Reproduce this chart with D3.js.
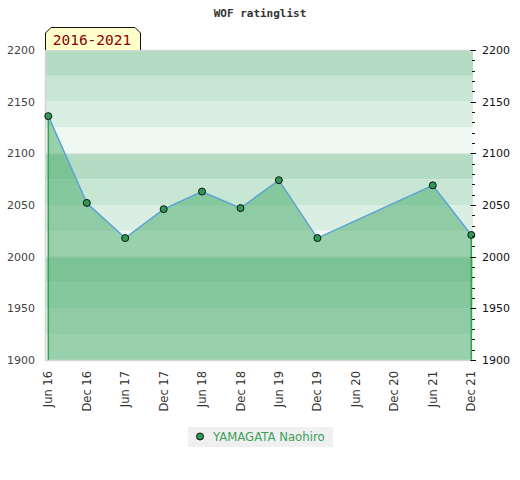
<!DOCTYPE html>
<html>
<head>
<meta charset="utf-8">
<script src="https://cdn.jsdelivr.net/npm/d3@7"></script>
<style>
  body { margin: 0; background: #fff; }
  svg { display: block; }
</style>
</head>
<body>
<div id="chart"></div>
<script>
// chart values
var dates = ["2016-06", "2016-12", "2017-06", "2017-12", "2018-06", "2018-12", "2019-06", "2019-12", "2021-06", "2021-12"];
var ratings = [2136, 2052, 2018, 2046, 2063, 2047, 2074, 2018, 2069, 2021];
var tickDates = ["2016-06", "2016-12", "2017-06", "2017-12", "2018-06", "2018-12", "2019-06", "2019-12", "2020-06", "2020-12", "2021-06", "2021-12"];
var yTicks = [1900, 1950, 2000, 2050, 2100, 2150, 2200];
var bandColors = ["#b3dcc3", "#c8e6d4", "#dbeee3", "#f0f8f3"];
var playerName = "YAMAGATA Naohiro";
var titleText = "WOF ratinglist";
var periodText = "2016-2021";

var width = 520, height = 480;
var plotLeft = 45, plotRight = 473, plotTop = 50, plotBottom = 360;

var parse = d3.timeParse("%Y-%m");
var data = dates.map(function (d, i) { return { date: parse(d), value: ratings[i] }; });

var x = d3.scaleTime()
    .domain([parse(tickDates[0]), parse(tickDates[tickDates.length - 1])])
    .range([48.3, 471.3]);

var y = d3.scaleLinear()
    .domain([1900, 2200])
    .range([plotBottom, plotTop]);

var svg = d3.select("#chart").append("svg")
    .attr("width", width)
    .attr("height", height);

// background bands every 25 points
var bands = d3.range(2200, 1900, -25);
svg.selectAll(".band")
    .data(bands)
    .enter()
    .append("rect")
    .attr("class", "band")
    .attr("x", plotLeft)
    .attr("width", plotRight - plotLeft)
    .attr("y", function (d) { return y(d); })
    .attr("height", function (d) { return y(d - 25) - y(d); })
    .style("fill", function (d, i) { return bandColors[i % 4]; });

svg.selectAll(".grid")
    .data([2100, 2000])
    .enter()
    .append("line")
    .attr("x1", plotLeft).attr("x2", plotRight)
    .attr("y1", function (d) { return y(d) + 0.5; })
    .attr("y2", function (d) { return y(d) + 0.5; })
    .style("stroke", "#dbe7df")
    .style("stroke-width", 1);

// area under the rating line
var area = d3.area()
    .x(function (d) { return x(d.date); })
    .y0(y(1900))
    .y1(function (d) { return y(d.value); });

svg.append("path")
    .datum(data)
    .attr("d", area)
    .style("fill", "#44aa67")
    .style("fill-opacity", 0.5);

// green side edges of the area
var first = data[0], last = data[data.length - 1];
svg.selectAll(".edge")
    .data([first, last])
    .enter()
    .append("line")
    .attr("x1", function (d) { return x(d.date); })
    .attr("x2", function (d) { return x(d.date); })
    .attr("y1", function (d) { return y(d.value); })
    .attr("y2", y(1900))
    .style("stroke", "#2ea552")
    .style("stroke-width", 1.5);

var line = d3.line()
    .x(function (d) { return x(d.date); })
    .y(function (d) { return y(d.value); });

svg.append("path")
    .datum(data)
    .attr("d", line)
    .style("fill", "none")
    .style("stroke", "#5ba3d6")
    .style("stroke-width", 1.5);

// plot frame
svg.append("path")
    .attr("d", "M" + plotRight + "," + (plotTop + 0.5) + "H" + (plotLeft + 0.5) + "V" + (plotBottom + 0.5) + "H" + plotRight)
    .style("fill", "none")
    .style("stroke", "#d4d4d4")
    .style("stroke-width", 1.5);

svg.selectAll(".pt")
    .data(data)
    .enter()
    .append("circle")
    .attr("class", "pt")
    .attr("cx", function (d) { return x(d.date); })
    .attr("cy", function (d) { return y(d.value); })
    .attr("r", 3.5)
    .style("fill", "#2f9a56")
    .style("stroke", "#111")
    .style("stroke-width", 1);

// left labels
svg.append("g")
    .selectAll("text")
    .data(yTicks)
    .enter()
    .append("text")
    .attr("x", 35)
    .attr("y", function (d) { return y(d); })
    .attr("dy", "0.35em")
    .attr("text-anchor", "end")
    .style("font", "11px 'DejaVu Sans'")
    .style("fill", "#444")
    .text(function (d) { return d; });

// right axis with minor ticks
var minor = d3.range(1900, 2201, 10);
svg.append("g")
    .selectAll("line")
    .data(minor)
    .enter()
    .append("line")
    .attr("x1", function (d) { return d % 50 === 0 ? 470.5 : 472; })
    .attr("x2", function (d) { return d % 50 === 0 ? 476 : 475; })
    .attr("y1", function (d) { return Math.round(y(d)) + 0.5; })
    .attr("y2", function (d) { return Math.round(y(d)) + 0.5; })
    .style("stroke", "#111")
    .style("stroke-width", 1);

svg.append("g")
    .selectAll("text")
    .data(yTicks)
    .enter()
    .append("text")
    .attr("x", 482)
    .attr("y", function (d) { return y(d); })
    .attr("dy", "0.35em")
    .style("font", "11px 'DejaVu Sans'")
    .style("fill", "#111")
    .text(function (d) { return d; });

// bottom labels
var fmt = d3.timeFormat("%b %y");
svg.append("g")
    .selectAll("text")
    .data(tickDates.map(parse))
    .enter()
    .append("text")
    .attr("transform", function (d) { return "translate(" + x(d) + ",371) rotate(-90)"; })
    .attr("dy", "0.35em")
    .attr("text-anchor", "end")
    .style("font", "11.5px 'DejaVu Sans'")
    .style("fill", "#333")
    .text(fmt);

// title
svg.append("text")
    .attr("x", 260)
    .attr("y", 17)
    .attr("text-anchor", "middle")
    .style("font", "bold 11px 'DejaVu Sans Mono'")
    .style("fill", "#333")
    .text(titleText);

// period badge
svg.append("path")
    .attr("d", "M45.5,50 V33 L51,27.5 H135 L140.5,33 V50")
    .style("fill", "#ffffcc")
    .style("stroke", "#111")
    .style("stroke-width", 1);

svg.append("text")
    .attr("x", 92)
    .attr("y", 45)
    .attr("text-anchor", "middle")
    .style("font", "14.5px 'DejaVu Sans Mono'")
    .style("fill", "#8b0000")
    .text(periodText);

// legend
var lg = svg.append("g");
lg.append("rect")
    .attr("x", 188).attr("y", 427)
    .attr("width", 145).attr("height", 20)
    .style("fill", "#f0f0f0");
lg.append("circle")
    .attr("cx", 200).attr("cy", 436.5)
    .attr("r", 3.5)
    .style("fill", "#2f9a56")
    .style("stroke", "#111");
lg.append("text")
    .attr("x", 213).attr("y", 436.5)
    .attr("dy", "0.35em")
    .style("font", "11.7px 'DejaVu Sans'")
    .style("fill", "#3c9f5c")
    .text(playerName);
</script>
</body>
</html>
